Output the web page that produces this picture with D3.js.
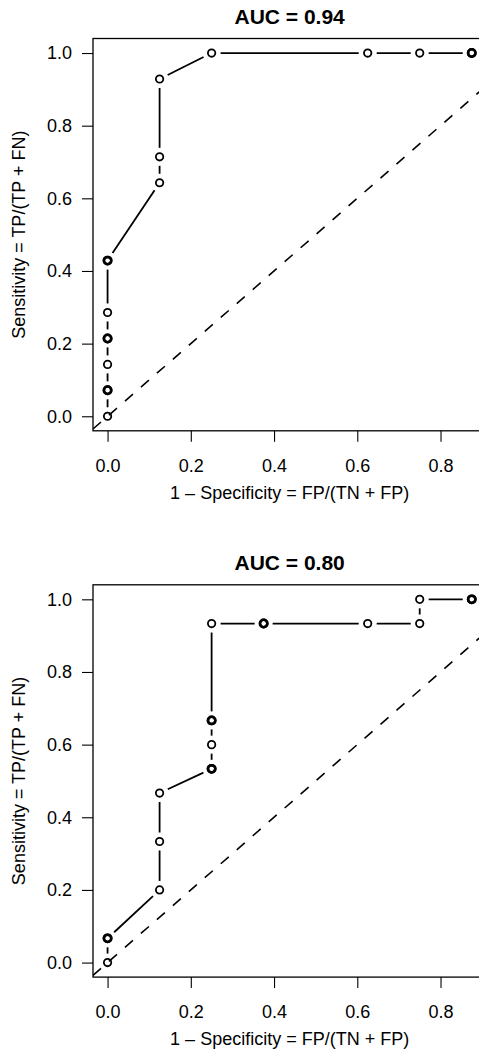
<!DOCTYPE html>
<html>
<head>
<meta charset="utf-8">
<script src="https://cdn.jsdelivr.net/npm/d3@7"></script>
<style>
  body { margin: 0; background: #fff; }
  text { font-family: "Liberation Sans", Arial, Helvetica, sans-serif; fill: #000; }
</style>
</head>
<body>
<div id="chart"></div>
<script>
// ROC points, first panel (14 positives, 8 negatives)
const fpr1 = [0, 0, 0, 0, 0, 0, 0, 0, 0, 0.125, 0.125, 0.125, 0.25, 0.625, 0.75, 0.875, 0.875];
const tpr1 = [0, 1/14, 1/14, 2/14, 3/14, 3/14, 4/14, 6/14, 6/14, 9/14, 10/14, 13/14, 1, 1, 1, 1, 1];

// ROC points, second panel (15 positives, 8 negatives)
const fpr2 = [0, 0, 0, 0.125, 0.125, 0.125, 0.25, 0.25, 0.25, 0.25, 0.25, 0.25, 0.375, 0.375, 0.625, 0.75, 0.75, 0.875, 0.875];
const tpr2 = [0, 1/15, 1/15, 3/15, 5/15, 7/15, 8/15, 8/15, 9/15, 10/15, 10/15, 14/15, 14/15, 14/15, 14/15, 14/15, 1, 1, 1];

const titles = ["AUC = 0.94", "AUC = 0.80"];
const xTicks = [0, 0.2, 0.4, 0.6, 0.8];
const yTicks = [0, 0.2, 0.4, 0.6, 0.8, 1.0];
const xLabel = "1 \u2013 Specificity = FP/(TN + FP)";
const yLabel = "Sensitivity = TP/(TP + FN)";

// Setup layout
const svgWidth = 479;
const svgHeight = 1055;
const box = { left: 93, right: 486.3, top: 38.5, height: 392.3 };
const panelShift = 546.3;
const gap = 9;       // line gap around each point (R type = "b")
const fontSize = 18;

const svg = d3.select("#chart")
  .append("svg")
  .attr("width", svgWidth)
  .attr("height", svgHeight);

svg.append("rect")
  .attr("width", svgWidth)
  .attr("height", svgHeight)
  .attr("fill", "#fff");

// pad a range by 4% on each side like R does
function padded(ext) {
  const d = (ext[1] - ext[0]) * 0.04;
  return [ext[0] - d, ext[1] + d];
}

function drawPanel(i, fpr, tpr, title) {
  const top = box.top + i * panelShift;
  const bottom = top + box.height;

  const xScale = d3.scaleLinear()
    .domain(padded(d3.extent(fpr)))
    .range([box.left, box.right]);

  const yScale = d3.scaleLinear()
    .domain(padded([0, 1]))
    .range([bottom, top]);

  const g = svg.append("g");

  // clip for the reference diagonal
  const clipId = "clip" + i;
  g.append("clipPath")
    .attr("id", clipId)
    .append("rect")
    .attr("x", box.left)
    .attr("y", top)
    .attr("width", box.right - box.left)
    .attr("height", box.height);

  // axes
  const bottomAxis = d3.axisBottom(xScale)
    .tickValues(xTicks)
    .tickFormat(d3.format(".1f"))
    .tickSize(11)
    .tickPadding(17);

  const leftAxis = d3.axisLeft(yScale)
    .tickValues(yTicks)
    .tickFormat(d3.format(".1f"))
    .tickSize(11)
    .tickPadding(10);

  const xAxis = g.append("g")
    .attr("transform", `translate(0, ${bottom})`)
    .call(bottomAxis);

  const yAxis = g.append("g")
    .attr("transform", `translate(${box.left}, 0)`)
    .call(leftAxis);

  [xAxis, yAxis].forEach(ax => {
    ax.select(".domain").remove();
    ax.selectAll("line").attr("stroke", "#000").attr("stroke-width", 1.1);
    ax.selectAll("text")
      .style("font-family", "\"Liberation Sans\", Arial, sans-serif")
      .style("font-size", fontSize + "px")
      .attr("fill", "#000");
  });

  // plot box
  g.append("rect")
    .attr("x", box.left)
    .attr("y", top)
    .attr("width", box.right - box.left)
    .attr("height", box.height)
    .attr("fill", "none")
    .attr("stroke", "#000")
    .attr("stroke-width", 1.3);

  // diagonal y = x
  const diag = xScale.domain();
  g.append("line")
    .attr("clip-path", `url(#${clipId})`)
    .attr("x1", xScale(diag[0]))
    .attr("y1", yScale(diag[0]))
    .attr("x2", xScale(diag[1]))
    .attr("y2", yScale(diag[1]))
    .attr("stroke", "#000")
    .attr("stroke-width", 1.6)
    .attr("stroke-dasharray", "10.6,10.6");

  // curve segments with gaps round the points
  const pts = fpr.map((f, k) => ({ x: xScale(f), y: yScale(tpr[k]), f: f, t: tpr[k] }));
  const segs = [];
  for (let k = 1; k < pts.length; k++) {
    const a = pts[k - 1], b = pts[k];
    const dx = b.x - a.x, dy = b.y - a.y;
    const len = Math.sqrt(dx * dx + dy * dy);
    if (len <= 2 * gap) continue;
    const ux = dx / len, uy = dy / len;
    segs.push({ x1: a.x + ux * gap, y1: a.y + uy * gap, x2: b.x - ux * gap, y2: b.y - uy * gap });
  }

  g.selectAll("line.seg")
    .data(segs)
    .enter()
    .append("line")
    .attr("class", "seg")
    .attr("x1", d => d.x1)
    .attr("y1", d => d.y1)
    .attr("x2", d => d.x2)
    .attr("y2", d => d.y2)
    .attr("stroke", "#000")
    .attr("stroke-width", 1.8);

  // repeated points look heavier (overplotted)
  const counts = d3.rollup(pts, v => v.length, d => d.f + "_" + d.t);

  g.selectAll("circle")
    .data(pts)
    .enter()
    .append("circle")
    .attr("cx", d => d.x)
    .attr("cy", d => d.y)
    .attr("r", 3.7)
    .attr("fill", "none")
    .attr("stroke", "#000")
    .attr("stroke-width", d => counts.get(d.f + "_" + d.t) > 1 ? 2.5 : 1.8);

  const cx = (box.left + box.right) / 2;

  // title
  g.append("text")
    .attr("x", cx)
    .attr("y", top - 14.5)
    .attr("text-anchor", "middle")
    .style("font-size", "21px")
    .style("font-weight", "bold")
    .text(title);

  // axis labels
  g.append("text")
    .attr("x", cx)
    .attr("y", bottom + 68)
    .attr("text-anchor", "middle")
    .style("font-size", fontSize + "px")
    .text(xLabel);

  g.append("text")
    .attr("transform", `translate(25, ${(top + bottom) / 2}) rotate(-90)`)
    .attr("text-anchor", "middle")
    .style("font-size", fontSize + "px")
    .text(yLabel);
}

drawPanel(0, fpr1, tpr1, titles[0]);
drawPanel(1, fpr2, tpr2, titles[1]);
</script>
</body>
</html>
